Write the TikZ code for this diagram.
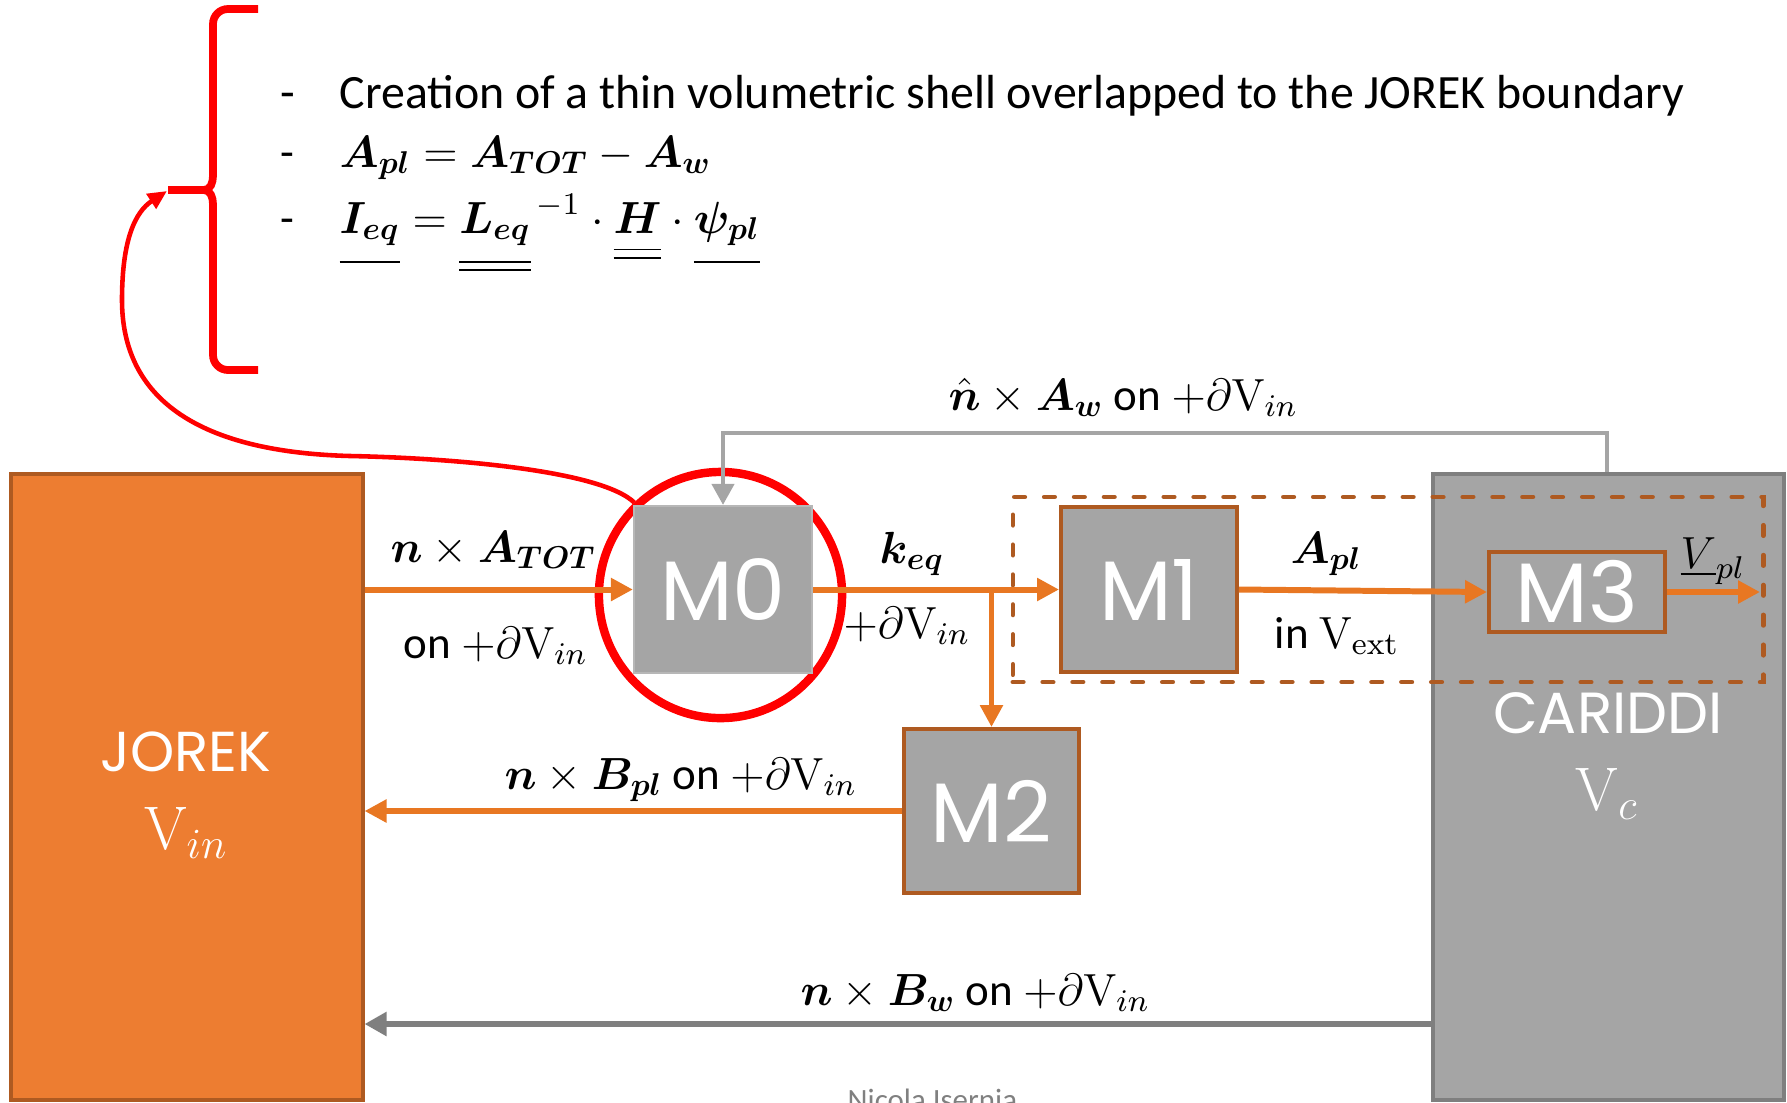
\RequirePackage{fix-cm}
\documentclass[tikz,border=0pt]{standalone}
\usepackage{amsmath,bm}
\usepackage[no-math]{fontspec}
\setmainfont{Carlito}
\newfontfamily\boxfont{Poppins}
\usetikzlibrary{arrows.meta,shapes.geometric}
\definecolor{jorek}{HTML}{ED7D31}
\definecolor{jorekrim}{HTML}{AE5A21}
\definecolor{flusso}{HTML}{E87722}
\definecolor{modulo}{HTML}{A5A5A5}
\definecolor{cariddirim}{HTML}{7F7F7F}
\definecolor{evidenza}{HTML}{FF0000}
% vettori e matrici sottolineati
\newcommand{\vecu}[1]{\underline{#1\rule[-6.5pt]{0pt}{0pt}}}
\newcommand{\matu}[2]{\underline{\underline{#1\rule[-#2]{0pt}{0pt}}}}

\begin{document}
\begin{tikzpicture}[x=0.01cm, y=-0.01cm,
    codebox/.style={line width=1.1pt, minimum width=3.51cm, minimum height=6.25cm, inner sep=0pt},
    modbox/.style={fill=modulo, draw=jorekrim, line width=1.1pt, minimum width=1.76cm,
      minimum height=1.65cm, inner sep=0pt, text=white, font=\boxfont\fontsize{24}{28}\selectfont},
    boxtxt/.style={text=white, anchor=base, inner sep=0pt},
    flow/.style={draw=flusso, line width=1.7pt, -{Triangle[length=2.2mm,width=2.2mm]}},
    wall/.style={draw=cariddirim, line width=1.8pt, -{Triangle[length=2.2mm,width=2.3mm]}},
    back/.style={draw=modulo, line width=1.2pt, -{Triangle[length=2.1mm,width=2.2mm]}},
    lab/.style={font=\fontsize{12.8}{15}\selectfont, anchor=base west, inner sep=0pt}]
  \useasboundingbox (0,0) rectangle (1787,1102);
  \clip (0,0) rectangle (1787,1102);
  % codici accoppiati
  \node[codebox, draw=jorekrim, fill=jorek] (jorek) at (187,787) {};
  \node[boxtxt, font=\boxfont\fontsize{16}{18}\selectfont] (jorekname) at (186,771) {JOREK};
  \node[boxtxt, font=\fontsize{17.5}{20}\selectfont] (jorekvol) at (186,849) {$\mathrm{V}_{in}$};
  \node[codebox, draw=cariddirim, fill=modulo, line width=1.2pt] (cariddi) at (1608.5,787) {};
  \node[boxtxt, font=\boxfont\fontsize{16.5}{18}\selectfont] (cariddiname) at (1608,733) {CARIDDI};
  \node[boxtxt, font=\fontsize{17.5}{20}\selectfont] (cariddivol) at (1607,810) {$\mathrm{V}_{c}$};
  \node[draw=jorekrim, dash pattern=on 3pt off 5.5pt, line cap=round, line width=1.3pt,
    minimum width=7.5cm, minimum height=1.85cm, inner sep=0pt] (grp) at (1388,589.5) {};
  % moduli
  \node[ellipse, draw=evidenza, line width=2.4pt, minimum width=2.43cm, minimum height=2.46cm,
    inner sep=0pt] (hl) at (720.5,595) {};
  \node[modbox, draw=modulo!80!white, line width=0.6pt, minimum width=1.78cm, minimum height=1.67cm] (m0) at (723,589.5) {M0};
  \node[modbox] (m1) at (1149,589.5) {M1};
  \node[modbox, minimum width=1.75cm, minimum height=1.64cm] (m2) at (991.5,811) {M2};
  \node[modbox, minimum height=0.8cm] (m3) at (1577,592) {M3};
  % frecce
  \coordinate (vpl) at (1760,592);
  \coordinate (bw) at (1433,1024);
  \coordinate (awtop) at (1607,433);
  \draw[flow] (m0.west -| jorek.east) -- (m0.west);
  \draw[flow] (m0.east) -- (m1.west);
  \draw[flow] (m2.north |- m0.east) -- (m2.north);
  \draw[flow] (m1.east) -- (m3.west);
  \draw[flow] (m3.east) -- (vpl);
  \draw[flow] (m2.west) -- (m2.west -| jorek.east);
  \draw[wall] (bw) -- (bw -| jorek.east);
  \draw[back] (awtop |- cariddi.north) -- (awtop) -| (m0.north);
  % etichette
  \node[lab] (natot) at (390,562) {$\bm{n}\times\bm{A_{TOT}}$};
  \node[lab] (onin) at (403,658) {on $+\partial\mathrm{V}_{in}$};
  \node[lab] (keq) at (879,563) {$\bm{k_{eq}}$};
  \node[lab] (dvin) at (843,638) {$+\partial\mathrm{V}_{in}$};
  \node[lab] (aw) at (948,410) {$\hat{\bm{n}}\times\bm{A_w}$ on $+\partial\mathrm{V}_{in}$};
  \node[lab] (apl) at (1290,563) {$\bm{A_{pl}}$};
  \node[lab] (vext) at (1274,648) {in $\mathrm{V}_{\mathrm{ext}}$};
  \node[lab] (vpllab) at (1680,568) {$\underline{V}_{pl}$};
  \node[lab] (bpl) at (504,789) {$\bm{n}\times\bm{B_{pl}}$ on $+\partial\mathrm{V}_{in}$};
  \node[lab] (bwlab) at (800,1005) {$\bm{n}\times\bm{B_w}$ on $+\partial\mathrm{V}_{in}$};
  % elenco in alto
  \node[lab, font=\fontsize{13.6}{16}\selectfont] (b1) at (280,108)
    {\makebox[0.59cm][l]{-}Creation of a thin volumetric shell overlapped to the JOREK boundary};
  \node[lab] (b2) at (280,167) {\makebox[0.59cm][l]{-}$\bm{A_{pl}}=\bm{A_{TOT}}-\bm{A_w}$};
  \node[lab] (b3) at (280,233) {\makebox[0.59cm][l]{-}$\vecu{\bm{I_{eq}}}
    =\matu{\bm{L_{eq}}}{6.5pt}^{\,-1}\cdot\matu{\bm{H}}{3pt}\cdot\vecu{\bm{\psi_{pl}}}$};
  % graffa e richiamo
  \draw[evidenza, line width=2.2pt] (258,9) -- (228,9) to[out=180,in=90] (213,24) -- (213,176)
    to[out=-90,in=0] (204,190) -- (168,190)
    (204,190) to[out=0,in=90] (213,204) -- (213,355) to[out=-90,in=180] (228,370) -- (258,370);
  \draw[evidenza, line width=1.3pt, -{Triangle[length=1.9mm,width=1.7mm]}] (hl.133)
    .. controls (600,470) and (450,458) .. (350,456)
    .. controls (200,452) and (122,400) .. (122,300)
    .. controls (122,240) and (135,212) .. (167,191);
  \node[anchor=base west, inner sep=0pt, text=gray, font=\fontsize{8.8}{10}\selectfont] (autore)
    at (847,1110) {Nicola Isernia};
\end{tikzpicture}
\end{document}
